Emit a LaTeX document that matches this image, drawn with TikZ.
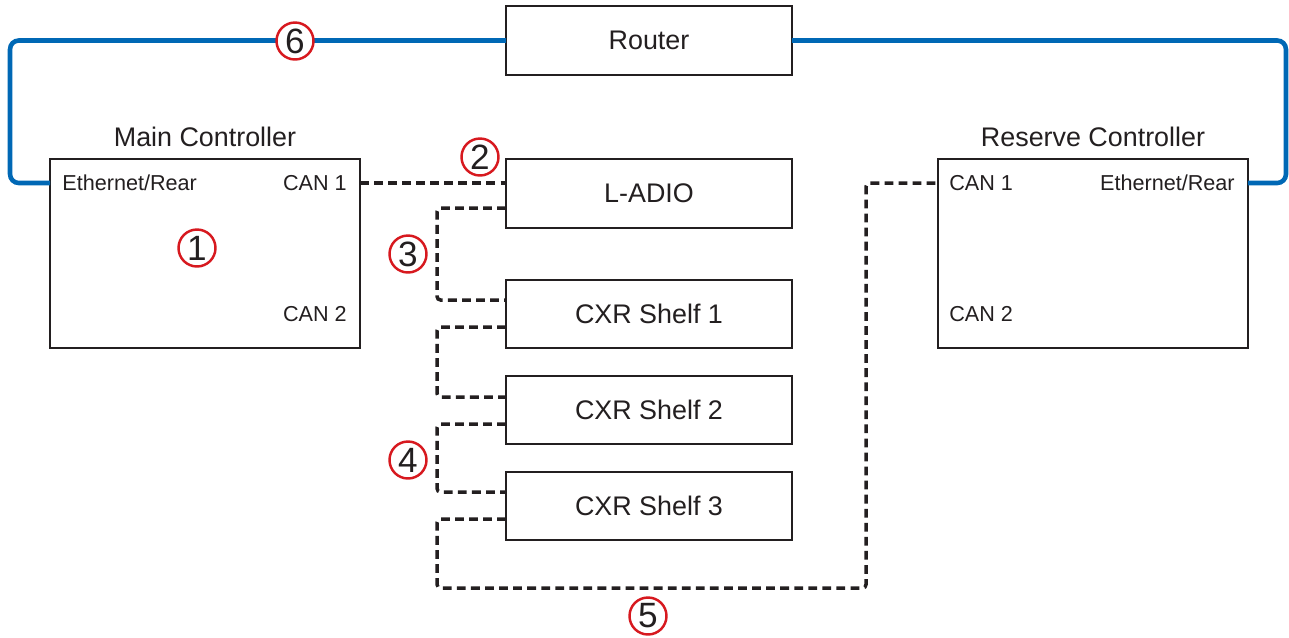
\documentclass[tikz,border=0pt]{standalone}
\usepackage{fontspec}
\setmainfont{Liberation Sans}
\usetikzlibrary{calc}

\definecolor{ethblue}{HTML}{0068B5}
\definecolor{numred}{HTML}{D7191F}
\definecolor{ink}{HTML}{231F20}

\tikzset{
  box/.style={draw=ink, line width=1.6pt, fill=white, inner sep=0pt, outer sep=0pt,
    font=\fontsize{15.3}{18}\selectfont, text=ink},
  title/.style={font=\fontsize{15.3}{18}\selectfont, text=ink, inner sep=0pt},
  port/.style={font=\fontsize{12.3}{14}\selectfont, text=ink, inner sep=0pt},
  num/.style={circle, draw=numred, line width=1.4pt, fill=white, minimum size=0.74cm,
    inner sep=0pt, font=\fontsize{20}{22}\selectfont, text=ink},
  ethline/.style={draw=ethblue, line width=2.6pt, rounded corners=5pt},
  canline/.style={draw=ink, line width=2pt, dash pattern=on 5pt off 3pt, rounded corners=2pt}
}

\begin{document}
\begin{tikzpicture}[x=0.02cm, y=-0.02cm]
  \useasboundingbox (0,0) rectangle (1289,637);

  % boxes
  \node[box, minimum width=5.72cm, minimum height=1.38cm] (router) at (649,40.5) {Router};
  \node[box, minimum width=5.72cm, minimum height=1.38cm] (ladio) at (649,193.5) {L-ADIO};
  \node[box, minimum width=5.72cm, minimum height=1.36cm] (shelfA) at (649,314) {CXR Shelf 1};
  \node[box, minimum width=5.72cm, minimum height=1.36cm] (shelfB) at (649,410) {CXR Shelf 2};
  \node[box, minimum width=5.72cm, minimum height=1.36cm] (shelfC) at (649,506) {CXR Shelf 3};
  \node[box, minimum width=6.2cm, minimum height=3.78cm] (main) at (205,253.5) {};
  \node[box, minimum width=6.2cm, minimum height=3.78cm] (resv) at (1093,253.5) {};

  % titles and ports
  \node[title] (mainT) at (205,137) {Main Controller};
  \node[title] (resvT) at (1093,137) {Reserve Controller};
  \node[port, anchor=west] (mainEth) at (62,183) {Ethernet/Rear};
  \node[port, anchor=east] (mainCanA) at (347,183) {CAN 1};
  \node[port, anchor=east] (mainCanB) at (347,314) {CAN 2};
  \node[port, anchor=west] (resvCanA) at (949,183) {CAN 1};
  \node[port, anchor=west] (resvCanB) at (949,314) {CAN 2};
  \node[port, anchor=east] (resvEth) at (1235,183) {Ethernet/Rear};

  % ethernet ring
  \draw[ethline] (main.west |- mainEth) -- ++(-40,0) |- (router.west);
  \draw[ethline] (router.east) -| ($(resv.east |- resvEth)+(38,0)$) -- (resv.east |- resvEth);

  % CAN bus
  \draw[canline] (main.east |- mainCanA) -- (ladio.west |- mainCanA);
  \draw[canline] ($(ladio.west)+(0,14.5)$) -- ++(-69,0) |- ($(shelfA.west)+(0,-14)$);
  \draw[canline] ($(shelfA.west)+(0,13)$) -- ++(-69,0) |- ($(shelfB.west)+(0,-13)$);
  \draw[canline] ($(shelfB.west)+(0,14)$) -- ++(-69,0) |- ($(shelfC.west)+(0,-14)$);
  \draw[canline] ($(shelfC.west)+(0,13)$) -- ++(-69,0) -- ++(0,69)
    -| ($(resv.west |- resvCanA)+(-72,0)$) -- (resv.west |- resvCanA);

  % callouts
  \node[num] (nA) at (197,248) {1};
  \node[num] (nB) at (480,157) {2};
  \node[num] (nC) at (408,254) {3};
  \node[num] (nD) at (408,460) {4};
  \node[num] (nE) at (648,616) {5};
  \node[num] (nF) at (295,41) {6};
\end{tikzpicture}
\end{document}
